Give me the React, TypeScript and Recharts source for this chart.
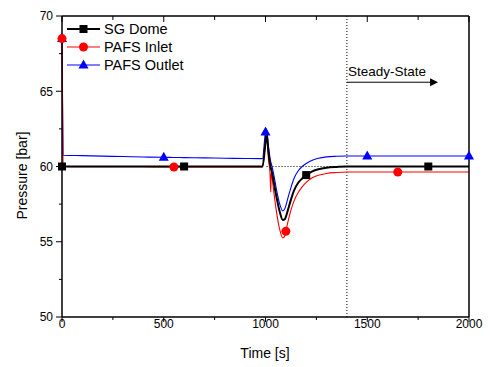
import React from "react";
import { LineChart, Line, XAxis, YAxis, ReferenceLine } from "recharts";

// time [s]
const time = [
  0, 5, 100, 200, 300, 400, 500, 550, 600, 700, 800, 900, 985, 1000, 1005, 1015,
  1022, 1026, 1028, 1032, 1040, 1055, 1070, 1085, 1095, 1100, 1110, 1125, 1140,
  1160, 1180, 1200, 1230, 1260, 1300, 1350, 1400, 1450, 1500, 1600, 1650, 1700,
  1800, 1900, 2000,
];

// pressure [bar]
const sgDome = [
  60, 60, 60, 60, 60, 60, 60, 60, 60, 60, 60, 60, 60, 61.6, 62.2, 60.9, 60.2,
  59.9, 59.8, 59.6, 59.0, 57.9, 57.0, 56.45, 56.5, 56.65, 57.1, 57.8, 58.4, 58.9,
  59.2, 59.43, 59.68, 59.82, 59.92, 59.97, 60, 60, 60, 60, 60, 60, 60, 60, 60,
];
const pafsInlet = [
  68.5, 60.0, 59.98, 59.98, 59.98, 59.98, 59.97, 59.97, 59.97, 59.97, 59.97,
  59.97, 59.97, 61.6, 62.2, 60.4, 59.6, 58.3, 59.6, 59.3, 58.4, 56.9, 55.8,
  55.25, 55.4, 55.7, 56.3, 57.1, 57.7, 58.25, 58.65, 58.95, 59.25, 59.42, 59.54,
  59.6, 59.63, 59.63, 59.63, 59.63, 59.63, 59.63, 59.63, 59.63, 59.63,
];
const pafsOutlet = [
  68.5, 60.75, 60.72, 60.69, 60.66, 60.63, 60.61, 60.6, 60.59, 60.57, 60.55,
  60.53, 60.52, 62.3, 62.5, 61.3, 60.6, 60.3, 60.2, 60.0, 59.5, 58.4, 57.5,
  57.05, 57.2, 57.4, 57.9, 58.6, 59.2, 59.7, 60.0, 60.2, 60.42, 60.55, 60.64,
  60.68, 60.7, 60.7, 60.7, 60.7, 60.7, 60.7, 60.7, 60.7, 60.7,
];

const domeMarks = [0, 600, 1200, 1800];
const inletMarks = [0, 550, 1100, 1650];
const outletMarks = [0, 500, 1000, 1500, 2000];

const xTicks = [0, 250, 500, 750, 1000, 1250, 1500, 1750, 2000];
const yTicks = [50, 52.5, 55, 57.5, 60, 62.5, 65, 67.5, 70];

const data = time.map((t, i) => ({
  t,
  dome: sgDome[i],
  inlet: pafsInlet[i],
  outlet: pafsOutlet[i],
}));

const FONT = "'Liberation Sans', Arial, sans-serif";

const square = (cx: number, cy: number, key?: any) => (
  <rect key={key} x={cx - 4} y={cy - 4} width={8} height={8} fill="#000" />
);
const circle = (cx: number, cy: number, key?: any) => (
  <circle key={key} cx={cx} cy={cy} r={4.5} fill="#ff0000" />
);
const triangle = (cx: number, cy: number, key?: any) => (
  <polygon
    key={key}
    points={`${cx},${cy - 5.5} ${cx - 5},${cy + 3.5} ${cx + 5},${cy + 3.5}`}
    fill="#0000ff"
  />
);

const markerDot =
  (marks: number[], draw: (cx: number, cy: number, key?: any) => React.ReactElement) =>
  (p: any) =>
    marks.includes(p.payload.t) ? draw(p.cx, p.cy, p.key ?? p.index) : <g key={p.key ?? p.index} />;

const BottomTick = ({ x, y, payload }: any) => {
  const major = payload.value % 500 === 0;
  return (
    <g>
      <line x1={x} x2={x} y1={y} y2={y + (major ? 5 : 3)} stroke="#000" strokeWidth={1} />
      {major && (
        <text x={x} y={y + 11} textAnchor="middle" fontSize={12} fontFamily={FONT} fill="#000">
          {payload.value}
        </text>
      )}
    </g>
  );
};

const TopTick = ({ x, y, payload }: any) => {
  const major = payload.value % 500 === 0;
  return <line x1={x} x2={x} y1={y} y2={y + (major ? 6 : 4)} stroke="#000" strokeWidth={1} />;
};

const LeftTick = ({ x, y, payload }: any) => {
  const major = payload.value % 5 === 0;
  return (
    <g>
      <line x1={x} x2={x - (major ? 6 : 3)} y1={y} y2={y} stroke="#000" strokeWidth={1} />
      {major && (
        <text x={x - 9} y={y + 4.3} textAnchor="end" fontSize={12} fontFamily={FONT} fill="#000">
          {payload.value}
        </text>
      )}
    </g>
  );
};

const RightTick = ({ x, y, payload }: any) => {
  const major = payload.value % 5 === 0;
  return (
    <g>
      <line x1={x} x2={x - (major ? 5 : 4)} y1={y} y2={y} stroke="#000" strokeWidth={1} />
      {major && (
        <text x={x + 7} y={y + 4.3} textAnchor="start" fontSize={12} fontFamily={FONT} fill="#000">
          {payload.value}
        </text>
      )}
    </g>
  );
};

const ArrowShape = (props: any) => {
  const { x1, y1, x2, y2 } = props;
  return (
    <g>
      <line x1={x1} y1={y1} x2={x2 - 6} y2={y2} stroke="#000" strokeWidth={1} />
      <polygon points={`${x2},${y2} ${x2 - 8},${y2 - 4} ${x2 - 8},${y2 + 4}`} fill="#000" />
      <text x={x1 + 1} y={y1 - 6} fontSize={13.5} fontFamily={FONT} fill="#000">
        Steady-State
      </text>
    </g>
  );
};

const legendItems = [
  { name: "SG Dome", color: "#000", width: 2, draw: square },
  { name: "PAFS Inlet", color: "#ff0000", width: 1.2, draw: circle },
  { name: "PAFS Outlet", color: "#0000ff", width: 1.2, draw: triangle },
];

export default function App() {
  return (
    <div style={{ position: "absolute", left: 0, top: 0, width: 494, height: 367, background: "#fff" }}>
      <LineChart width={494} height={367} data={data} margin={{ top: 0, right: 0, bottom: 0, left: 0 }}>
        <XAxis
          dataKey="t"
          type="number"
          domain={[0, 2000]}
          ticks={xTicks}
          interval={0}
          height={50}
          tickSize={0}
          tickMargin={0}
          tickLine={false}
          tick={<BottomTick />}
          axisLine={{ stroke: "#000", strokeWidth: 1.5 }}
        />
        <XAxis
          xAxisId="top"
          dataKey="t"
          type="number"
          orientation="top"
          domain={[0, 2000]}
          ticks={xTicks}
          interval={0}
          height={16}
          tickSize={0}
          tickMargin={0}
          tickLine={false}
          tick={<TopTick />}
          axisLine={{ stroke: "#000", strokeWidth: 1.5 }}
        />
        <YAxis
          type="number"
          domain={[50, 70]}
          ticks={yTicks}
          interval={0}
          width={62}
          tickSize={0}
          tickMargin={0}
          tickLine={false}
          tick={<LeftTick />}
          axisLine={{ stroke: "#000", strokeWidth: 1.5 }}
        />
        <YAxis
          yAxisId="right"
          orientation="right"
          type="number"
          domain={[50, 70]}
          ticks={yTicks}
          interval={0}
          width={25}
          tickSize={0}
          tickMargin={0}
          tickLine={false}
          tick={<RightTick />}
          axisLine={{ stroke: "#000", strokeWidth: 1.5 }}
        />
        <ReferenceLine x={1400} stroke="#000" strokeWidth={1} strokeDasharray="1 2" />
        <ReferenceLine
          segment={[
            { x: 1005, y: 60 },
            { x: 1400, y: 60 },
          ]}
          stroke="#000"
          strokeWidth={1}
          strokeDasharray="1 2"
        />
        <ReferenceLine
          segment={[
            { x: 1400, y: 65.6 },
            { x: 1848, y: 65.6 },
          ]}
          shape={<ArrowShape />}
        />
        <Line
          dataKey="outlet"
          type="monotone"
          stroke="#0000ff"
          strokeWidth={1.1}
          dot={markerDot(outletMarks, triangle)}
          activeDot={false}
          isAnimationActive={false}
        />
        <Line
          dataKey="inlet"
          type="monotone"
          stroke="#ff0000"
          strokeWidth={1.1}
          dot={markerDot(inletMarks, circle)}
          activeDot={false}
          isAnimationActive={false}
        />
        <Line
          dataKey="dome"
          type="monotone"
          stroke="#000"
          strokeWidth={2}
          dot={markerDot(domeMarks, square)}
          activeDot={false}
          isAnimationActive={false}
        />
      </LineChart>
      <svg
        width={494}
        height={367}
        style={{ position: "absolute", left: 0, top: 0, pointerEvents: "none" }}
      >
        <text x={265} y={358} textAnchor="middle" fontSize={14} fontFamily={FONT} fill="#000">
          Time [s]
        </text>
        <text
          x={27}
          y={175.5}
          transform="rotate(-90 27 175.5)"
          textAnchor="middle"
          fontSize={14}
          fontFamily={FONT}
          fill="#000"
        >
          Pressure [bar]
        </text>
      </svg>
      <div style={{ position: "absolute", left: 66, top: 20 }}>
        {legendItems.map((it) => (
          <div key={it.name} style={{ display: "flex", alignItems: "center", height: 18 }}>
            <svg width={36} height={14}>
              <line x1={1} x2={34} y1={7} y2={7} stroke={it.color} strokeWidth={it.width} />
              {it.draw(17.5, 7)}
            </svg>
            <span style={{ fontFamily: FONT, fontSize: 14.5, color: "#000", marginLeft: 2, lineHeight: "18px" }}>
              {it.name}
            </span>
          </div>
        ))}
      </div>
    </div>
  );
}
